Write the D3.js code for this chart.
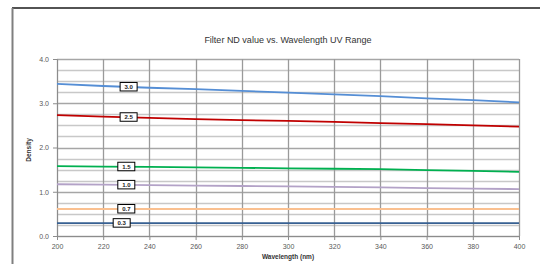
<!DOCTYPE html>
<html>
<head>
<meta charset="utf-8">
<script src="https://cdn.jsdelivr.net/npm/d3@7"></script>
<style>
  body { margin: 0; background: #fff; }
  svg { display: block; font-family: "Liberation Sans", Arial, sans-serif; }
</style>
</head>
<body>
<div id="chart"></div>
<script>
// wavelengths (nm) sampled every 20
const wavelengths = [200, 220, 240, 260, 280, 300, 320, 340, 360, 380, 400];

// density readings per filter
const nd30 = [3.44, 3.39, 3.35, 3.32, 3.28, 3.24, 3.20, 3.16, 3.11, 3.07, 3.02];
const nd25 = [2.73, 2.70, 2.67, 2.64, 2.62, 2.60, 2.58, 2.55, 2.53, 2.50, 2.47];
const nd15 = [1.58, 1.57, 1.56, 1.55, 1.54, 1.53, 1.52, 1.51, 1.49, 1.47, 1.45];
const nd10 = [1.17, 1.16, 1.15, 1.14, 1.13, 1.12, 1.11, 1.10, 1.08, 1.07, 1.06];
const nd07 = [0.61, 0.61, 0.61, 0.61, 0.61, 0.61, 0.61, 0.61, 0.61, 0.61, 0.61];
const nd03 = [0.29, 0.29, 0.29, 0.29, 0.29, 0.29, 0.29, 0.29, 0.29, 0.29, 0.29];

const seriesNames = ["3.0", "2.5", "1.5", "1.0", "0.7", "0.3"];
const seriesValues = [nd30, nd25, nd15, nd10, nd07, nd03];
const seriesColors = ["#558ed5", "#c00000", "#00b050", "#b3a2c7", "#fac090", "#376092"];
// wavelength where each value label sits
const labelAt = [231, 231, 230, 230, 230, 228];

const xTicks = [200, 220, 240, 260, 280, 300, 320, 340, 360, 380, 400];
const yTicks = [0, 1, 2, 3, 4];

var cfg = {
  width: 540,
  height: 264,
  margin: {top: 59, right: 21, bottom: 28, left: 57}
};

var scale = {
  x: d3.scaleLinear().domain([200, 400])
    .range([cfg.margin.left, cfg.width - cfg.margin.right]),
  y: d3.scaleLinear().domain([0, 4])
    .range([cfg.height - cfg.margin.bottom, cfg.margin.top])
};

var svg = d3.select("#chart").append("svg")
  .attr("width", cfg.width)
  .attr("height", cfg.height);

// chart frame
svg.append("line")
  .attr("x1", 12).attr("x2", 540).attr("y1", 8).attr("y2", 8)
  .style("stroke", "#1a1a1a").style("stroke-width", 1.5);
svg.append("line")
  .attr("x1", 12.5).attr("x2", 12.5).attr("y1", 8).attr("y2", 264)
  .style("stroke", "#7f7f7f").style("stroke-width", 2);

// title
svg.append("text")
  .attr("x", 288).attr("y", 43)
  .attr("text-anchor", "middle")
  .style("font-size", "9px")
  .style("fill", "#333")
  .text("Filter ND value vs. Wavelength UV Range");

// horizontal grid every 0.25
var gridG = svg.append("g");
gridG.selectAll("line.h")
  .data(d3.range(0, 4.01, 0.25))
  .enter().append("line")
  .attr("x1", scale.x(200)).attr("x2", scale.x(400))
  .attr("y1", d => Math.round(scale.y(d)) + 0.5)
  .attr("y2", d => Math.round(scale.y(d)) + 0.5)
  .style("stroke", d => d % 1 === 0 ? "#a6a6a6" : "#c8c8c8")
  .style("stroke-width", 1.3);

// vertical grid
gridG.selectAll("line.v")
  .data(xTicks)
  .enter().append("line")
  .attr("x1", d => Math.round(scale.x(d)) + 0.5)
  .attr("x2", d => Math.round(scale.x(d)) + 0.5)
  .attr("y1", scale.y(4)).attr("y2", scale.y(0))
  .style("stroke", "#9a9a9a")
  .style("stroke-width", 1.3);

// axes
let x_axis = svg.append("g")
  .attr("transform", `translate(0, ${scale.y(0)})`)
  .call(d3.axisBottom(scale.x).tickValues(xTicks).tickSize(4).tickPadding(4)
    .tickFormat(d3.format("d")));
let y_axis = svg.append("g")
  .attr("transform", `translate(${scale.x(200)}, 0)`)
  .call(d3.axisLeft(scale.y).tickValues(yTicks).tickSize(4).tickPadding(4)
    .tickFormat(d3.format(".1f")));
[x_axis, y_axis].forEach(ax => {
  ax.select(".domain").style("stroke", "#8c8c8c");
  ax.selectAll("line").style("stroke", "#8c8c8c");
  ax.selectAll("text")
    .style("fill", "#595959")
    .style("font-size", "7px")
    .style("font-family", "Liberation Sans, Arial, sans-serif");
});

// axis titles
svg.append("text")
  .attr("transform", "translate(31, 150) rotate(-90)")
  .attr("text-anchor", "middle")
  .style("font-size", "6.5px")
  .style("font-weight", "bold")
  .style("fill", "#333")
  .text("Density");
svg.append("text")
  .attr("x", 288).attr("y", 259)
  .attr("text-anchor", "middle")
  .style("font-size", "6.5px")
  .style("font-weight", "bold")
  .style("fill", "#333")
  .text("Wavelength (nm)");

// series lines
var line = d3.line()
  .x((d, i) => scale.x(wavelengths[i]))
  .y(d => scale.y(d));

svg.append("g").selectAll("path")
  .data(seriesValues)
  .enter().append("path")
  .attr("d", line)
  .style("fill", "none")
  .style("stroke", (d, i) => seriesColors[i])
  .style("stroke-width", 1.8);

// value labels
var interp = (vals, w) => {
  let i = Math.min(Math.floor((w - 200) / 20), vals.length - 2);
  let t = (w - wavelengths[i]) / 20;
  return vals[i] + (vals[i + 1] - vals[i]) * t;
};
var labelG = svg.append("g").selectAll("g")
  .data(seriesNames)
  .enter().append("g")
  .attr("transform", (d, i) =>
    `translate(${scale.x(labelAt[i])}, ${scale.y(interp(seriesValues[i], labelAt[i]))})`);
labelG.append("rect")
  .attr("x", -8.5).attr("y", -4.5)
  .attr("width", 17).attr("height", 8.5)
  .style("fill", "#fff")
  .style("stroke", "#000")
  .style("stroke-width", 1);
labelG.append("text")
  .attr("y", 2.2)
  .attr("text-anchor", "middle")
  .style("font-size", "6px")
  .style("font-weight", "bold")
  .style("fill", "#222")
  .text(d => d);
</script>
</body>
</html>
